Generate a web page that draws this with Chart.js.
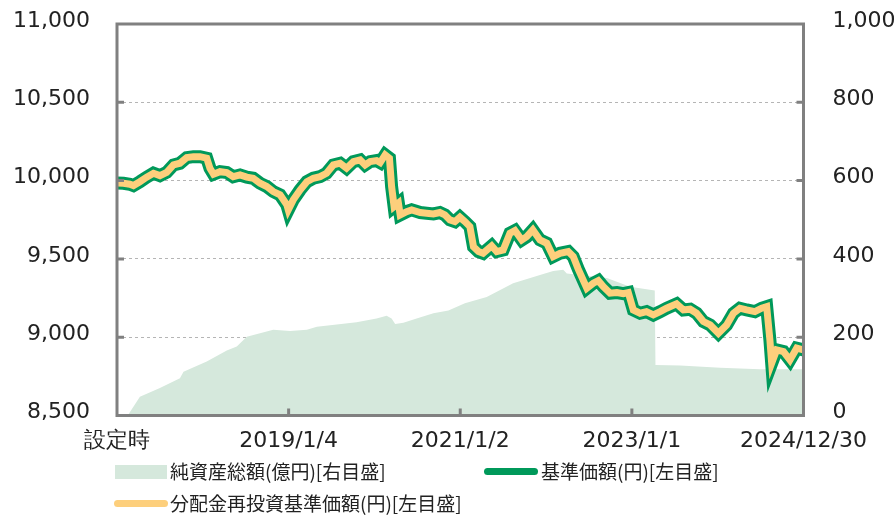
<!DOCTYPE html>
<html>
<head>
<meta charset="utf-8">
<script src="https://cdn.jsdelivr.net/npm/chart.js@4.4.1/dist/chart.umd.min.js"></script>
<style>
  body { margin: 0; background: #fff; }
  #wrap { position: relative; width: 896px; height: 515px; }
  canvas { position: absolute; left: 0; top: 0; }
  .leg { position: absolute; font-family: "Noto Sans CJK JP", sans-serif; font-size: 19px; color: #222; line-height: 1; white-space: nowrap; }
  .sw { position: absolute; }
</style>
</head>
<body>
<div id="wrap">
  <canvas id="chart" width="896" height="515"></canvas>
  <div id="legend"></div>
</div>
<script>
// x values are months since 設定時
const tickMonths = [0, 24, 48, 72, 96];
const tickLabels = ["設定時", "2019/1/4", "2021/1/2", "2023/1/1", "2024/12/30"];

// 基準価額 / 分配金再投資基準価額 (identical, no distributions)
const navMonths = [
  0, 0.9, 1.8, 2.3, 3.2, 4.15, 5.1, 6.0, 6.95, 7.9, 8.8, 9.75, 10.7, 11.6, 12.55, 13.0, 13.5, 14.4,
  15.35, 16.25, 17.2, 18.15, 19.05, 20.0, 20.95, 21.85, 22.8, 23.75, 23.95, 24.65, 25.6, 26.55, 27.45,
  28.4, 29.3, 30.25, 31.2, 32.1, 33.05, 34.0, 34.7, 35.4, 36.3, 36.8, 37.5, 38.1, 38.4, 38.75, 39.35,
  39.6, 40.5, 41.2, 42.4, 43.3, 44.25, 45.15, 45.85, 46.55, 47.25, 47.95, 48.65, 49.35, 49.85, 50.55,
  51.2, 52.4, 53.1, 54.0, 54.95, 55.65, 56.6, 57.3, 58.15, 59.15, 60.1, 61.0, 61.95, 63.1, 63.8, 64.5,
  65.7, 66.6, 67.3, 68.0, 68.95, 69.9, 70.8, 71.5, 72.2, 73.15, 74.05, 75.0, 75.95, 76.85, 78.25, 79.2,
  80.15, 81.05, 82.0, 82.95, 84.1, 85.25, 86.2, 87.1, 88.05, 89.2, 90.15, 90.85, 91.3, 91.55, 92.25,
  93.2, 94.1, 95.05, 96.0
];
const navValues = [
  9985, 9983, 9977, 9968, 9993, 10022, 10047, 10032, 10053, 10100, 10111, 10147, 10153, 10153, 10143, 10079, 10041, 10057,
  10051, 10025, 10036, 10022, 10015, 9983, 9962, 9930, 9909, 9845, 9813, 9877, 9940, 9993, 10015,
  10025, 10047, 10100, 10111, 10079, 10121, 10132, 10100, 10121, 10128, 10115, 10164, 10143, 9962, 9834, 9856,
  9781, 9802, 9813, 9796, 9792, 9787, 9796, 9781, 9749, 9738, 9766, 9738, 9706, 9578, 9547,
  9536, 9583, 9547, 9557, 9664, 9681, 9621, 9642, 9685, 9621, 9600, 9515, 9536, 9547, 9515, 9435,
  9313, 9345, 9361, 9323, 9281, 9285, 9278, 9285, 9174, 9153, 9163, 9142, 9163, 9185, 9213, 9174,
  9179, 9153, 9100, 9078, 9025, 9078, 9153, 9185, 9174, 9163, 9185, 9195, 8983, 8834, 8919,
  8908, 8855, 8930, 8919
];

// 純資産総額 (億円)
const assetMonths = [
  1.5, 3.2, 6.0, 8.8, 9.3, 12.55, 15.35, 16.75, 18.15, 21.85, 24.2, 26.55, 27.95, 33.5, 36.3, 37.7,
  38.4, 38.9, 40.05, 41.9, 44.25, 46.35, 48.65, 51.7, 55.4, 59.15, 61.0, 62.4, 62.9, 64.75, 68.5,
  71.75, 75.2, 75.3, 78.75, 84.35, 89.9, 96.0
];
const assetValues = [
  0, 48, 70, 95, 112, 138, 166, 176, 201, 219, 216, 219, 227, 238, 248, 255,
  248, 234, 237, 248, 261, 268, 287, 303, 338, 359, 369, 372, 363, 359, 351,
  329, 319, 129, 128, 122, 118, 118
];

const labelNet = "純資産総額(億円)[右目盛]";
const labelNav = "基準価額(円)[左目盛]";
const labelReinv = "分配金再投資基準価額(円)[左目盛]";

const GREEN = "#00995a";
const YELLOW = "#fdcf7c";
const AREA = "#d5e8dc";
const FRAME = "#808080";

const toPoints = (xs, ys) => xs.map((x, i) => ({ x: x, y: ys[i] }));

const framePlugin = {
  id: "frame",
  afterDatasetsDraw(chart) {
    const { ctx, chartArea: a, scales } = chart;
    ctx.save();
    ctx.strokeStyle = FRAME;
    ctx.lineWidth = 3;
    ctx.beginPath();
    scales.y.ticks.forEach((t) => {
      if (t.value <= scales.y.min || t.value >= scales.y.max) return;
      const y = scales.y.getPixelForValue(t.value);
      ctx.moveTo(a.left, y);
      ctx.lineTo(a.left + 7, y);
    });
    scales.y2.ticks.forEach((t) => {
      if (t.value <= scales.y2.min || t.value >= scales.y2.max) return;
      const y = scales.y2.getPixelForValue(t.value);
      ctx.moveTo(a.right, y);
      ctx.lineTo(a.right - 7, y);
    });
    tickMonths.slice(1, -1).forEach((m) => {
      const x = scales.x.getPixelForValue(m);
      ctx.moveTo(x, a.bottom);
      ctx.lineTo(x, a.bottom - 7);
    });
    ctx.stroke();
    ctx.strokeRect(a.left, a.top, a.right - a.left, a.bottom - a.top);
    ctx.restore();
  },
};

const tickFont = { family: "DejaVu Sans", size: 22 };

// y axes: fixed width, no extra label padding so the plot area is set by layout.padding
const fitY = (w) => (s) => {
  s.width = w;
  s.paddingTop = 0;
  s.paddingBottom = 0;
};

const chart = new Chart(document.getElementById("chart"), {
  type: "line",
  data: {
    datasets: [
      {
        label: labelReinv,
        data: toPoints(navMonths, navValues),
        borderColor: YELLOW,
        borderWidth: 7,
        pointRadius: 0,
        tension: 0,
        yAxisID: "y",
        order: 1,
      },
      {
        label: labelNav,
        data: toPoints(navMonths, navValues),
        borderColor: GREEN,
        borderWidth: 13,
        pointRadius: 0,
        tension: 0,
        yAxisID: "y",
        order: 2,
      },
      {
        label: labelNet,
        data: toPoints(assetMonths, assetValues),
        borderWidth: 0,
        borderColor: AREA,
        backgroundColor: AREA,
        fill: "start",
        pointRadius: 0,
        tension: 0,
        yAxisID: "y2",
        order: 3,
      },
    ],
  },
  options: {
    responsive: false,
    animation: false,
    devicePixelRatio: 1,
    layout: { padding: { top: 24, left: 0, right: 0, bottom: 0 } },
    plugins: { legend: { display: false }, tooltip: { enabled: false } },
    scales: {
      x: {
        type: "linear",
        min: 0,
        max: 96,
        afterBuildTicks: (s) => { s.ticks = tickMonths.map((v) => ({ value: v })); },
        afterFit: (s) => { s.height = 99.5; s.paddingLeft = 0; s.paddingRight = 0; },
        ticks: {
          autoSkip: false,
          maxRotation: 0,
          padding: 5,
          color: "#222",
          font: tickFont,
          callback: (v, i) => tickLabels[i],
        },
        grid: { display: false },
        border: { display: false },
      },
      y: {
        position: "left",
        min: 8500,
        max: 11000,
        afterFit: fitY(117),
        ticks: {
          stepSize: 500,
          padding: 27,
          labelOffset: -3,
          color: "#222",
          font: tickFont,
          callback: (v) => v.toLocaleString("en-US"),
        },
        grid: {
          drawTicks: false,
          color: (c) => (c.tick.value === 8500 || c.tick.value === 11000 ? "rgba(0,0,0,0)" : "#b5b5b5"),
          lineWidth: 1,
        },
        border: { display: false, dash: [3, 3] },
      },
      y2: {
        position: "right",
        min: 0,
        max: 1000,
        afterFit: fitY(92.5),
        ticks: {
          stepSize: 200,
          padding: 29,
          labelOffset: -3,
          color: "#222",
          font: tickFont,
          callback: (v) => v.toLocaleString("en-US"),
        },
        grid: { display: false, drawTicks: false },
        border: { display: false },
      },
    },
  },
  plugins: [framePlugin],
});

// HTML legend built from the dataset labels
const legendItems = [
  { ds: 2, kind: "box", left: 115, top: 471, textLeft: 170 },
  { ds: 1, kind: "line", left: 484, top: 471, textLeft: 541 },
  { ds: 0, kind: "line", left: 114, top: 503, textLeft: 170 },
];
const legendEl = document.getElementById("legend");
legendItems.forEach((it) => {
  const ds = chart.data.datasets[it.ds];
  const sw = document.createElement("div");
  sw.className = "sw";
  if (it.kind === "box") {
    Object.assign(sw.style, { left: it.left + "px", top: it.top - 6 + "px", width: "52px", height: "14px", background: ds.backgroundColor });
  } else {
    Object.assign(sw.style, { left: it.left + "px", top: it.top - 3 + "px", width: "54px", height: "7px", borderRadius: "4px", background: ds.borderColor });
  }
  legendEl.appendChild(sw);
  const tx = document.createElement("div");
  tx.className = "leg";
  tx.textContent = ds.label;
  Object.assign(tx.style, { left: it.textLeft + "px", top: it.top - 10 + "px" });
  legendEl.appendChild(tx);
});
</script>
</body>
</html>
